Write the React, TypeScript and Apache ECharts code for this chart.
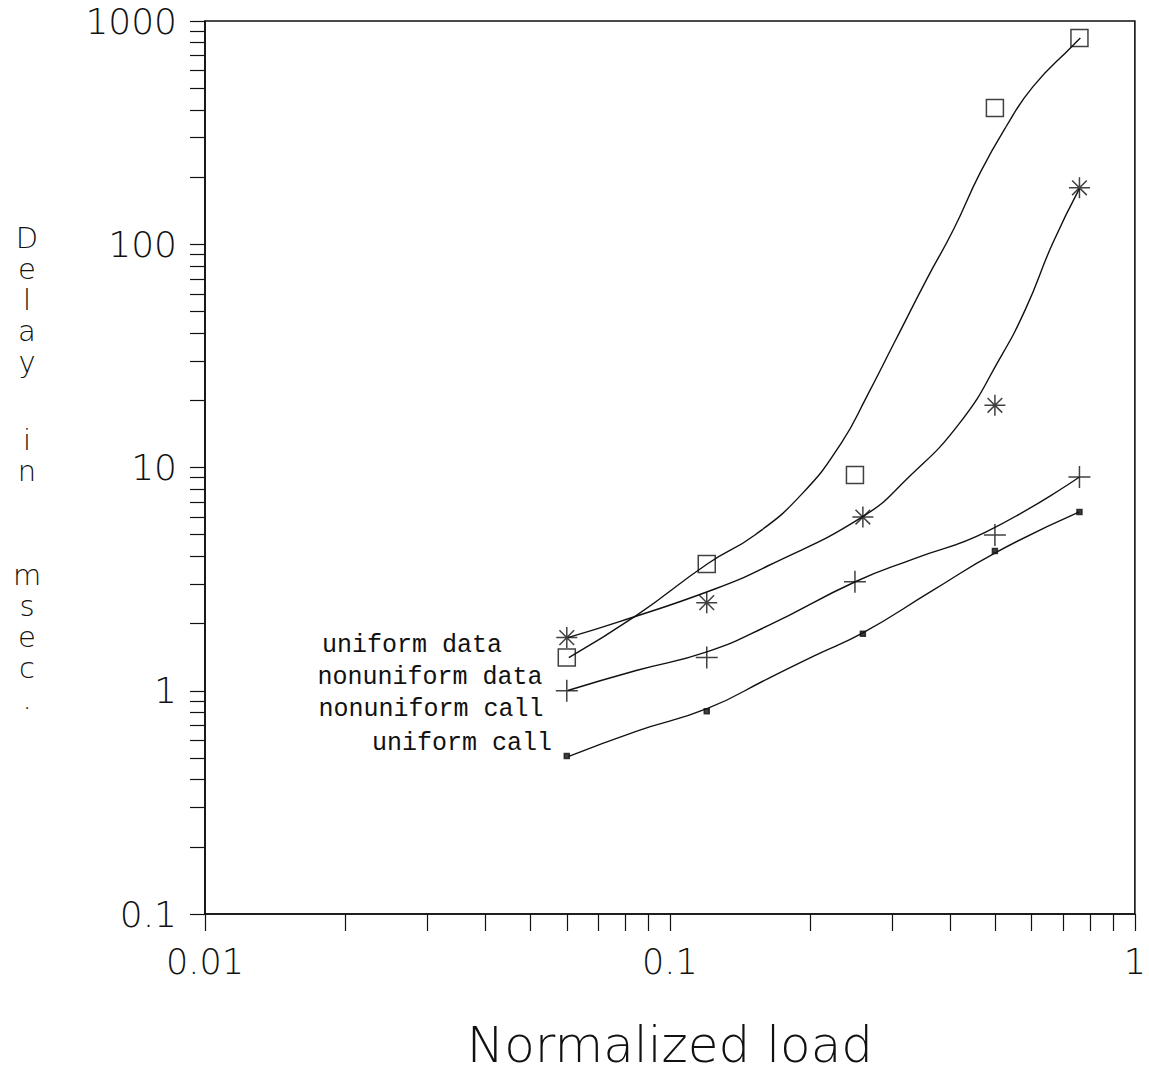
import React, { useEffect, useRef } from 'react';
import * as echarts from 'echarts';

// ---- tick labels ----
const xTickLabels = ['0.01', '0.1', '1'];
const yTickLabels = ['0.1', '1', '10', '100', '1000'];

// ---- series names (top to bottom at the left end of the curves) ----
const seriesNames = ['uniform data', 'nonuniform data', 'nonuniform call', 'uniform call'];

// ---- measured points (normalized load, delay in msec) ----
const starX = [0.06, 0.12, 0.26, 0.5, 0.76];
const starY = [1.73, 2.48, 6.0, 19.0, 179];
const squareX = [0.06, 0.12, 0.25, 0.5, 0.76];
const squareY = [1.41, 3.7, 9.25, 408, 840];
const plusX = [0.06, 0.12, 0.25, 0.5, 0.76];
const plusY = [1.0, 1.41, 3.08, 4.99, 9.07];
const dotX = [0.06, 0.12, 0.26, 0.5, 0.76];
const dotY = [0.51, 0.81, 1.8, 4.23, 6.32];

// ---- fitted curves ----
const starCurveX = [0.0603, 0.0779, 0.1253, 0.1626, 0.2593, 0.3233, 0.4214, 0.5129, 0.5828, 0.6653, 0.7598];
const starCurveY = [1.73, 2.039, 2.864, 3.63, 6.01, 8.88, 15.97, 30.9, 51.6, 100.8, 177.5];
const squareCurveX = [0.0606, 0.0846, 0.1205, 0.1526, 0.1921, 0.2338, 0.2657, 0.3033, 0.3566, 0.4073, 0.4649, 0.5283, 0.6032, 0.7339, 0.7634];
const squareCurveY = [1.408, 2.169, 3.705, 5.0, 7.6, 12.9, 21.0, 36.0, 69.6, 116.4, 209.3, 336, 507, 773, 839];
const plusCurveX = [0.0603, 0.0846, 0.1205, 0.1626, 0.2504, 0.3345, 0.4788, 0.7598];
const plusCurveY = [1.003, 1.232, 1.497, 1.957, 3.078, 3.9, 5.15, 9.07];
const dotCurveX = [0.0606, 0.0846, 0.1205, 0.1626, 0.2048, 0.2605, 0.3638, 0.5054, 0.7598];
const dotCurveY = [0.508, 0.658, 0.833, 1.134, 1.437, 1.82, 2.777, 4.19, 6.33];

const pairs = (xs: number[], ys: number[]) => xs.map((x, i) => [x, ys[i]]);

export default function App() {
  const ref = useRef<HTMLDivElement>(null);

  useEffect(() => {
    const chart = echarts.init(ref.current as HTMLDivElement, null, { renderer: 'svg' });
    const font = 'DejaVu Sans';
    const mono = 'Liberation Mono';
    const black = '#111';

    const curve = (name: string, xs: number[], ys: number[]) => ({
      name,
      type: 'line',
      data: pairs(xs, ys),
      smooth: 0.5,
      showSymbol: false,
      symbol: 'none',
      lineStyle: { color: black, width: 1.4 },
      z: 2,
      silent: true,
    });
    const marks = (name: string, xs: number[], ys: number[], symbol: string, size: number, fill: string) => ({
      name,
      type: 'scatter',
      data: pairs(xs, ys),
      symbol,
      symbolSize: size,
      itemStyle: { color: fill, borderColor: black, borderWidth: 1.5 },
      z: 3,
      silent: true,
    });

    const asterisk = 'path://M10 0 L10 20 M0 10 L20 10 M3 3 L17 17 M17 3 L3 17';
    const cross = 'path://M0 10 L20 10 M10 0 L10 20';

    const legendPos = [
      [412, 645],
      [430, 677],
      [431, 709],
      [462, 743],
    ];

    chart.setOption({
      animation: false,
      backgroundColor: '#fff',
      textStyle: { fontFamily: font, color: black },
      grid: {
        left: 205,
        top: 21,
        right: 6,
        bottom: 159,
        show: true,
        borderColor: black,
        borderWidth: 1.6,
        backgroundColor: 'transparent',
      },
      xAxis: {
        type: 'log',
        logBase: 10,
        min: 0.01,
        max: 1,
        name: 'Normalized load',
        nameLocation: 'middle',
        nameGap: 106,
        nameTextStyle: { fontSize: 50, fontFamily: font, fontWeight: 200, color: black },
        axisLine: { show: true, lineStyle: { color: black, width: 1.6 } },
        axisTick: { show: true, inside: false, length: 17, lineStyle: { color: black, width: 1.2 } },
        minorTick: { show: true, splitNumber: 9, length: 17, lineStyle: { color: black, width: 1.2 } },
        splitLine: { show: false },
        minorSplitLine: { show: false },
        axisLabel: {
          margin: 30,
          fontSize: 35,
          fontFamily: font,
          fontWeight: 200,
          color: black,
          formatter: (v: number) => xTickLabels[Math.round(Math.log10(v)) + 2] ?? '',
        },
      },
      yAxis: {
        type: 'log',
        logBase: 10,
        min: 0.1,
        max: 1000,
        axisLine: { show: true, lineStyle: { color: black, width: 1.6 } },
        axisTick: { show: true, inside: false, length: 15, lineStyle: { color: black, width: 1.2 } },
        minorTick: { show: true, splitNumber: 9, length: 15, lineStyle: { color: black, width: 1.2 } },
        splitLine: { show: false },
        minorSplitLine: { show: false },
        axisLabel: {
          margin: 28,
          fontSize: 36,
          fontFamily: font,
          fontWeight: 200,
          color: black,
          formatter: (v: number) => yTickLabels[Math.round(Math.log10(v)) + 1] ?? '',
        },
      },
      graphic: [
        ...['D\ne\nl\na\ny', 'i\nn', 'm\ns\ne\nc\n.'].map((t, i) => ({
          type: 'text',
          x: 27,
          y: [222.5, 424.5, 559.5][i],
          silent: true,
          style: {
            text: t,
            fontSize: 29,
            lineHeight: 31,
            fontFamily: font,
            fontWeight: 200,
            fill: black,
            align: 'center',
            verticalAlign: 'top',
          },
        })),
        ...seriesNames.map((n, i) => ({
          type: 'text',
          x: legendPos[i][0],
          y: legendPos[i][1],
          silent: true,
          style: {
            text: n,
            fontSize: 25,
            fontFamily: mono,
            fill: black,
            align: 'center',
            verticalAlign: 'middle',
          },
        })),
      ],
      series: [
        curve(seriesNames[0], starCurveX, starCurveY),
        curve(seriesNames[1], squareCurveX, squareCurveY),
        curve(seriesNames[2], plusCurveX, plusCurveY),
        curve(seriesNames[3], dotCurveX, dotCurveY),
        marks(seriesNames[0], starX, starY, asterisk, 21, 'transparent'),
        marks(seriesNames[1], squareX, squareY, 'rect', 17, 'transparent'),
        marks(seriesNames[2], plusX, plusY, cross, 22, 'transparent'),
        marks(seriesNames[3], dotX, dotY, 'rect', 5, black),
      ],
    });

    return () => chart.dispose();
  }, []);

  return (
    <div
      ref={ref}
      style={{ position: 'fixed', left: 0, top: 0, width: 1149, height: 1075, background: '#fff' }}
    />
  );
}
